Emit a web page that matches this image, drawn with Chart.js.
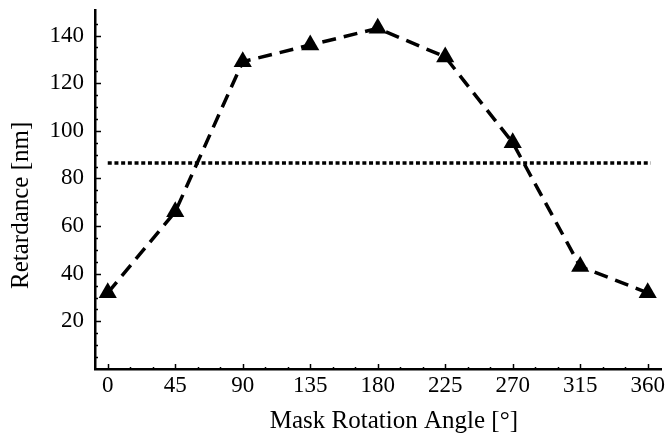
<!DOCTYPE html>
<html>
<head>
<meta charset="utf-8">
<script src="https://cdn.jsdelivr.net/npm/chart.js@4.4.1/dist/chart.umd.min.js"></script>
<style>
  body { margin: 0; background: #fff; }
  #wrap { width: 672px; height: 436px; }
</style>
</head>
<body>
<div id="wrap"><canvas id="chart" width="672" height="436"></canvas></div>
<script>
// angles of the mask (degrees) and measured retardance (nm)
const angles = [0, 45, 90, 135, 180, 225, 270, 315, 360];
const retardance = [32, 66, 129, 136, 143, 131, 95, 43, 32];
// horizontal dotted reference level
const refAngles = [0, 362];
const refLevel = [86.5, 86.5];

const xTicks = [0, 45, 90, 135, 180, 225, 270, 315, 360];
const yTicks = [20, 40, 60, 80, 100, 120, 140];

const serif = "'Liberation Serif', 'Times New Roman', serif";
const policeTicks = { family: serif, size: 23 };
const policeTitre = { family: serif, size: 25 };

// small tick marks drawn inside the plot, like the original figure
const petitsTraits = {
  id: 'petitsTraits',
  afterDraw(chart) {
    const c = chart.ctx;
    const x = chart.scales.x;
    const y = chart.scales.y;
    c.save();
    c.strokeStyle = '#000';
    c.lineWidth = 1.5;
    for (let v = 5; v <= 145; v += 5) {
      const py = Math.round(y.getPixelForValue(v)) + 0.5;
      const len = v % 20 === 0 ? 6 : 3;
      c.beginPath();
      c.moveTo(y.right, py);
      c.lineTo(y.right + len, py);
      c.stroke();
    }
    for (let v = 0; v <= 360; v += 15) {
      const px = Math.round(x.getPixelForValue(v)) + 0.5;
      const len = v % 45 === 0 ? 5 : 2;
      c.beginPath();
      c.moveTo(px, x.top);
      c.lineTo(px, x.top - len);
      c.stroke();
    }
    c.restore();
  }
};

const ctx = document.getElementById('chart');
new Chart(ctx, {
  type: 'line',
  data: {
    datasets: [{
      label: 'Retardance',
      data: angles.map((a, i) => ({ x: a, y: retardance[i] })),
      borderColor: '#000',
      backgroundColor: '#000',
      borderWidth: 3.5,
      borderDash: [14, 8],
      pointStyle: 'triangle',
      pointRadius: 10.5,
      pointBorderWidth: 0,
      pointBackgroundColor: '#000',
      tension: 0
    }, {
      label: 'Reference',
      data: refAngles.map((a, i) => ({ x: a, y: refLevel[i] })),
      borderColor: '#000',
      borderWidth: 3.5,
      borderDash: [4, 2.7],
      pointRadius: 0
    }]
  },
  options: {
    responsive: false,
    animation: false,
    layout: {
      padding: { top: 10, right: 0, bottom: 0, left: 0 }
    },
    plugins: {
      legend: { display: false },
      tooltip: { enabled: false }
    },
    scales: {
      x: {
        type: 'linear',
        min: -8.5,
        max: 369.2,
        afterBuildTicks: (scale) => { scale.ticks = xTicks.map(v => ({ value: v })); },
        afterFit: (scale) => { scale.height = 67; scale.paddingLeft = 0; scale.paddingRight = 0; },
        grid: { display: false, drawTicks: false },
        border: { display: true, color: '#000', width: 2.5 },
        ticks: { color: '#000', font: policeTicks, padding: 3, maxRotation: 0, autoSkip: false },
        // leading spaces push the title a bit to the right, as in the figure
        title: { display: true, text: '     Mask Rotation Angle [°]', color: '#000', font: policeTitre, padding: { top: 4, bottom: 0 } }
      },
      y: {
        type: 'linear',
        min: 0,
        max: 150.5,
        afterBuildTicks: (scale) => { scale.ticks = yTicks.map(v => ({ value: v })); },
        afterFit: (scale) => { scale.width = 95; scale.paddingTop = 0; scale.paddingBottom = 0; },
        grid: { display: false, drawTicks: false },
        border: { display: true, color: '#000', width: 2.5 },
        ticks: { color: '#000', font: policeTicks, padding: 11, autoSkip: false },
        title: { display: true, text: 'Retardance [nm]     ', color: '#000', font: policeTitre, padding: { top: 6, bottom: 0 } }
      }
    }
  },
  plugins: [petitsTraits]
});
</script>
</body>
</html>
